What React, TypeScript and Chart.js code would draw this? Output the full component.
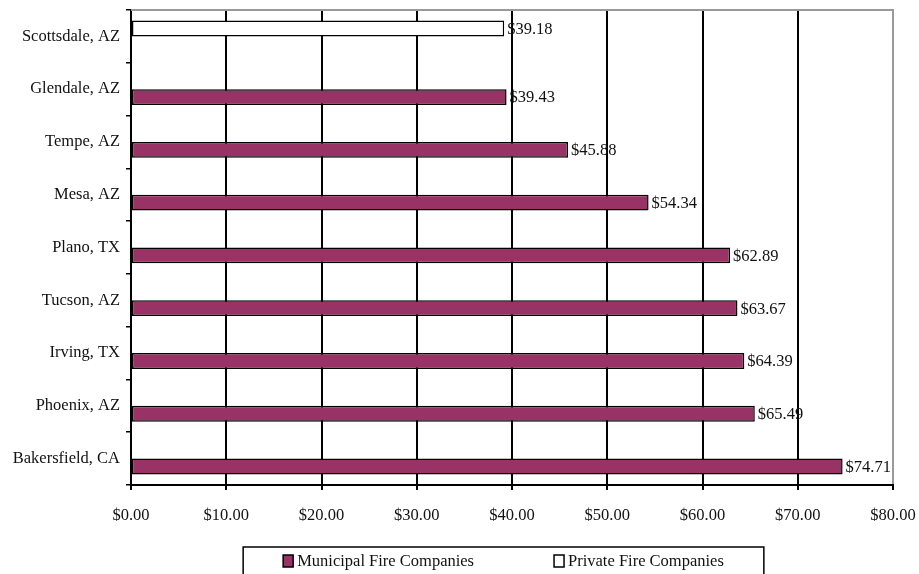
import React, { useEffect, useRef } from "react";
import { Chart, registerables } from "chart.js";

Chart.register(...registerables);

const categories = [
  "Scottsdale, AZ",
  "Glendale, AZ",
  "Tempe, AZ",
  "Mesa, AZ",
  "Plano, TX",
  "Tucson, AZ",
  "Irving, TX",
  "Phoenix, AZ",
  "Bakersfield, CA",
];
const municipalValues = [null, 39.43, 45.88, 54.34, 62.89, 63.67, 64.39, 65.49, 74.71];
const privateValues = [39.18, null, null, null, null, null, null, null, null];
const xTickMin = 0;
const xTickMax = 80;
const xTickStep = 10;

const FONT = "'Liberation Serif', 'Times New Roman', serif";
const FONT_SIZE = 16.5;
const MAROON = "#993366";

const valueLabels = {
  id: "valueLabels",
  afterDatasetsDraw(chart: any) {
    const ctx = chart.ctx;
    ctx.save();
    ctx.font = `${FONT_SIZE}px ${FONT}`;
    ctx.fillStyle = "#111";
    ctx.textAlign = "left";
    ctx.textBaseline = "middle";
    chart.data.datasets.forEach((ds: any, di: number) => {
      const meta = chart.getDatasetMeta(di);
      meta.data.forEach((el: any, i: number) => {
        const v = ds.data[i];
        if (v === null || v === undefined) return;
        ctx.fillText("$" + Number(v).toFixed(2), el.x + 3, el.y + 1);
      });
    });
    ctx.restore();
  },
};

const frame = {
  id: "frame",
  afterDraw(chart: any) {
    const { ctx, chartArea } = chart;
    ctx.save();
    ctx.strokeStyle = "#999";
    ctx.lineWidth = 2;
    ctx.beginPath();
    ctx.moveTo(chartArea.left, chartArea.top);
    ctx.lineTo(chartArea.right + 1, chartArea.top);
    ctx.stroke();
    ctx.restore();
  },
};

const customLegend = {
  id: "customLegend",
  afterDraw(chart: any) {
    const { ctx, chartArea } = chart;
    const items = [...chart.data.datasets].reverse();
    ctx.save();
    ctx.font = `${FONT_SIZE}px ${FONT}`;
    const sw = 10;
    const sh = 12;
    const textGap = 4;
    const itemGap = 80;
    const widths = items.map((d: any) => sw + textGap + ctx.measureText(d.label).width);
    const total = widths.reduce((a: number, b: number) => a + b, 0) + itemGap * (items.length - 1);
    const center = (chartArea.left + chartArea.right) / 2 - 8.5;
    let x = center - total / 2;
    const boxPad = 40;
    const boxTop = chartArea.bottom + 62;
    const midY = boxTop + 14;
    ctx.strokeStyle = "#000";
    ctx.lineWidth = 1.5;
    ctx.strokeRect(x - boxPad, boxTop, total + boxPad * 2, 60);
    items.forEach((d: any, i: number) => {
      ctx.fillStyle = d.backgroundColor;
      ctx.fillRect(x, midY - sh / 2, sw, sh);
      ctx.strokeStyle = "#000";
      ctx.lineWidth = 1.5;
      ctx.strokeRect(x, midY - sh / 2, sw, sh);
      ctx.fillStyle = "#111";
      ctx.textAlign = "left";
      ctx.textBaseline = "middle";
      ctx.fillText(d.label, x + sw + textGap, midY + 1);
      x += widths[i] + itemGap;
    });
    ctx.restore();
  },
};

export default function App() {
  const ref = useRef<HTMLCanvasElement | null>(null);

  useEffect(() => {
    if (!ref.current) return;
    const chart = new Chart(ref.current, {
      type: "bar",
      data: {
        labels: categories,
        datasets: [
          {
            label: "Private Fire Companies",
            data: privateValues,
            backgroundColor: "#ffffff",
            borderColor: "#000",
            borderWidth: 1.5,
            borderSkipped: false,
            categoryPercentage: 0.6,
            barPercentage: 1,
          },
          {
            label: "Municipal Fire Companies",
            data: municipalValues,
            backgroundColor: MAROON,
            borderColor: "#000",
            borderWidth: 1.5,
            borderSkipped: false,
            categoryPercentage: 0.6,
            barPercentage: 1,
          },
        ] as any,
      },
      options: {
        indexAxis: "y",
        animation: false,
        responsive: true,
        maintainAspectRatio: false,
        layout: { padding: { top: 10, right: 26, left: 0, bottom: 0 } },
        plugins: {
          legend: { display: false },
          tooltip: { enabled: false },
        },
        scales: {
          x: {
            min: xTickMin,
            max: xTickMax,
            afterFit: (s: any) => {
              s.height = 89;
              s.paddingLeft = 0;
              s.paddingRight = 0;
            },
            ticks: {
              stepSize: xTickStep,
              color: "#111",
              font: { family: FONT, size: FONT_SIZE },
              padding: 16,
              callback: (v: any) => "$" + Number(v).toFixed(2),
            },
            grid: {
              color: (c: any) => (c.tick && c.tick.value === xTickMax ? "#999" : "#000"),
              tickColor: "#000",
              lineWidth: 2,
              tickLength: 5,
            },
            border: { color: "#000", width: 2 },
          },
          y: {
            afterFit: (s: any) => {
              s.width = 131;
              s.paddingTop = 0;
              s.paddingBottom = 0;
            },
            ticks: {
              color: "#111",
              font: { family: FONT, size: FONT_SIZE },
              padding: 6,
            },
            grid: {
              offset: true,
              drawOnChartArea: false,
              drawTicks: true,
              tickLength: 5,
              color: "#000",
              lineWidth: 1.5,
            },
            border: { color: "#000", width: 2 },
          },
        },
      },
      plugins: [valueLabels, frame, customLegend],
    });
    return () => chart.destroy();
  }, []);

  return (
    <div style={{ position: "fixed", left: 0, top: 0, width: 919, height: 574, background: "#fff" }}>
      <canvas ref={ref} />
    </div>
  );
}
